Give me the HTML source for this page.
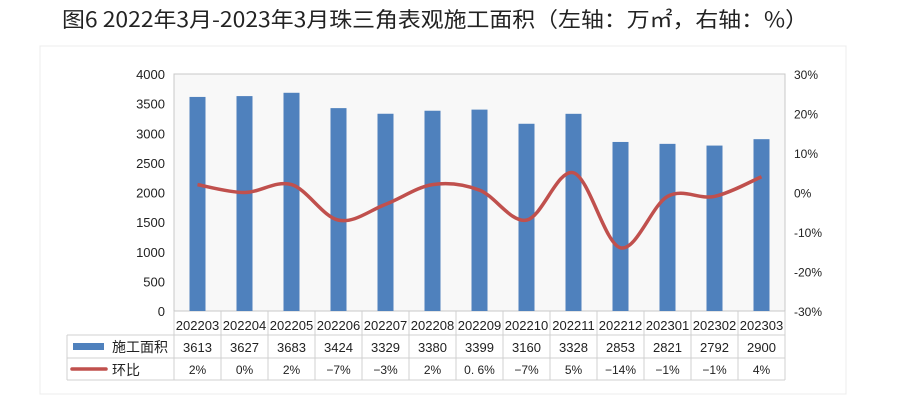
<!DOCTYPE html>
<html><head><meta charset="utf-8"><style>
body{margin:0;background:#fff;width:900px;height:402px;overflow:hidden;font-family:"Liberation Sans","Noto Sans CJK SC",sans-serif;}
</style></head><body>
<svg width="900" height="402" xmlns="http://www.w3.org/2000/svg" font-family="Liberation Sans, Noto Sans CJK SC, sans-serif">
<text x="62" y="27" font-size="21" font-family="Noto Sans CJK SC, sans-serif" textLength="746" lengthAdjust="spacingAndGlyphs" fill="#222">图6 2022年3月-2023年3月珠三角表观施工面积（左轴：万㎡，右轴：%）</text>
<rect x="40" y="46" width="806" height="348" fill="none" stroke="#ececec"/>
<rect x="174" y="74" width="611" height="237" fill="#f8f8f8" stroke="#c8c8c8"/>
<g id="g"></g>
</svg>
<script>
const categories=["202203","202204","202205","202206","202207","202208","202209","202210","202211","202212","202301","202302","202303"];
const areaValues=[3613,3627,3683,3424,3329,3380,3399,3160,3328,2853,2821,2792,2900];
const ratioValues=[2,0,2,-7,-3,2,0.6,-7,5,-14,-1,-1,4];
const ratioLabels=["2%","0%","2%","−7%","−3%","2%","0. 6%","−7%","5%","−14%","−1%","−1%","4%"];
const leftTicks=[0,500,1000,1500,2000,2500,3000,3500,4000];
const rightTicks=[-30,-20,-10,0,10,20,30];
const NS="http://www.w3.org/2000/svg",g=document.getElementById('g');
const X0=174,CW=47,Y0=311,YT=74;
const xc=i=>X0+CW*(i+0.5);
const yL=v=>Y0-(v/4000)*(Y0-YT);
const yR=v=>Y0-((v+30)/60)*(Y0-YT);
function mk(t,a,txt){const e=document.createElementNS(NS,t);for(const k in a)e.setAttribute(k,a[k]);if(txt!=null)e.textContent=txt;g.appendChild(e);return e;}
leftTicks.forEach(v=>{const e=mk('text',{x:165,y:yL(v)+5,'text-anchor':'end','font-size':13,fill:'#222'},v);

});
rightTicks.forEach(v=>{const e=mk('text',{x:794,y:yR(v)+5,'font-size':12,fill:'#222'},v+'%');

});
areaValues.forEach((v,i)=>{const e=mk('rect',{x:xc(i)-8,y:yL(v),width:16,height:Y0-yL(v),fill:'#4f81bd'});

});
const pts=ratioValues.map((v,i)=>[xc(i),yR(v)]);
let d='M'+pts[0][0]+','+pts[0][1];
for(let i=0;i<pts.length-1;i++){const p0=pts[Math.max(i-1,0)],p1=pts[i],p2=pts[i+1],p3=pts[Math.min(i+2,pts.length-1)];
d+=` C${p1[0]+(p2[0]-p0[0])/6},${p1[1]+(p2[1]-p0[1])/6} ${p2[0]-(p3[0]-p1[0])/6},${p2[1]-(p3[1]-p1[1])/6} ${p2[0]},${p2[1]}`;}
const ln=mk('path',{d:d,fill:'none',stroke:'#c0504d','stroke-width':3.5});


const TL=67,R1=335,R2=358,R3=380,XR=X0+CW*13;
[[TL,R1,XR,R1],[TL,R2,XR,R2],[TL,R3,XR,R3],[TL,R1,TL,R3]].forEach(a=>mk('line',{x1:a[0],y1:a[1],x2:a[2],y2:a[3],stroke:'#d0d0d0'}));
for(let i=0;i<=13;i++){mk('line',{x1:X0+CW*i,y1:Y0,x2:X0+CW*i,y2:R3,stroke:'#d0d0d0'});}
categories.forEach((c,i)=>{const e=mk('text',{x:xc(i),y:330,'text-anchor':'middle','font-size':13,fill:'#222'},c);


const a=mk('text',{x:xc(i),y:352,'text-anchor':'middle','font-size':13,fill:'#222'},areaValues[i]);


const r=mk('text',{x:xc(i),y:374,'text-anchor':'middle','font-size':12,fill:'#222'},ratioLabels[i]);

});
const k1=mk('rect',{x:73,y:343,width:31,height:7,fill:'#4f81bd'});


const t1=mk('text',{x:112,y:352,'font-size':14,fill:'#222'},'施工面积');


const k2=mk('line',{x1:72,y1:369,x2:106,y2:369,stroke:'#c0504d','stroke-width':3.5,'stroke-linecap':'round'});


const t2=mk('text',{x:112,y:375,'font-size':14,fill:'#222'},'环比');


</script>
</body></html>
